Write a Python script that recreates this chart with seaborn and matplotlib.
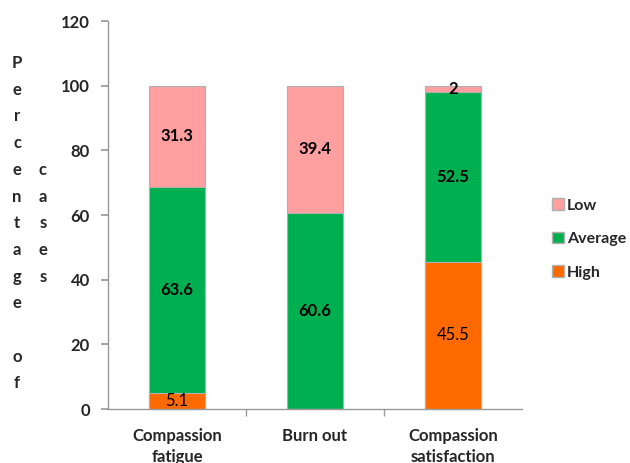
import matplotlib
matplotlib.use("Agg")
import matplotlib.pyplot as plt
import seaborn as sns
import pandas as pd
import numpy as np
from matplotlib.patches import Patch

# Scale scores by level (percentage of cases)
categories = ["Compassion\nfatigue", "Burn out", "Compassion\nsatisfaction"]
high = [5.1, 0.0, 45.5]
average = [63.6, 60.6, 52.5]
low = [31.3, 39.4, 2.0]

colors = {"Low": "#FF9F9F", "Average": "#00B050", "High": "#FF6A00"}
FS = 12

sns.set_theme(style="white")
plt.rcParams["font.family"] = ["Lato", "DejaVu Sans"]

df = pd.DataFrame({"category": categories, "High": high, "Average": average, "Low": low})
df["cum_high"] = df["High"]
df["cum_avg"] = df["High"] + df["Average"]
df["cum_low"] = df["cum_avg"] + df["Low"]

fig = plt.figure(figsize=(6.3, 4.63), dpi=100)
ax = fig.add_axes([0.1714, 0.1166, 0.6572, 0.838])

edge = dict(edgecolor="#B0B0B0", linewidth=0.8, width=0.4)
# stack by overdrawing cumulative totals, tallest first
sns.barplot(data=df, x="category", y="cum_low", color=colors["Low"], ax=ax, saturation=1, **edge)
sns.barplot(data=df, x="category", y="cum_avg", color=colors["Average"], ax=ax, saturation=1, **edge)
sns.barplot(data=df, x="category", y="cum_high", color=colors["High"], ax=ax, saturation=1, **edge)

# value labels centred in each segment
for i in range(len(categories)):
    segs = [("High", high[i], 0.0, "normal"),
            ("Average", average[i], high[i], "bold"),
            ("Low", low[i], high[i] + average[i], "bold")]
    for name, val, base, weight in segs:
        if val <= 0:
            continue
        txt = f"{val:g}"
        ax.text(i, base + val / 2, txt, ha="center", va="center",
                fontsize=FS, fontweight=weight, color="black")

ax.set_ylim(0, 120)
ax.set_xlim(-0.5, 2.5)
ax.set_yticks(np.arange(0, 121, 20))
ax.set_xlabel("")
ax.set_ylabel("")
for s in ["top", "right"]:
    ax.spines[s].set_visible(False)
for s in ["left", "bottom"]:
    ax.spines[s].set_color("#999999")
    ax.spines[s].set_linewidth(1.0)

ax.tick_params(axis="y", which="major", length=5, color="#999999", direction="out",
               left=True, labelsize=FS, pad=8)
ax.tick_params(axis="x", which="major", length=0, labelsize=FS, pad=14)
ax.set_xticks([0.5, 1.5], minor=True)
ax.tick_params(axis="x", which="minor", length=5, color="#999999", direction="out", bottom=True)
for lbl in ax.get_yticklabels() + ax.get_xticklabels():
    lbl.set_fontweight("bold")
for lbl in ax.get_xticklabels():
    lbl.set_linespacing(1.35)

# vertical letter-stacked axis title
step = 26.7 / 463
y0 = 1 - 63 / 463
for k, ch in enumerate("Percentage of"):
    fig.text(17 / 630, y0 - k * step, ch, ha="center", va="center",
             fontsize=FS, fontweight="bold")
for k, ch in enumerate("cases"):
    fig.text(43 / 630, y0 - (k + 4) * step, ch, ha="center", va="center",
             fontsize=FS, fontweight="bold")

handles = [Patch(facecolor=colors[n], edgecolor="#B0B0B0", label=n) for n in ["Low", "Average", "High"]]
fig.legend(handles=handles, loc="center left", bbox_to_anchor=(552 / 630, 1 - 239 / 463),
           frameon=False, borderpad=0, borderaxespad=0,
           handlelength=0.75, handleheight=0.75, handletextpad=0.2,
           labelspacing=1.2, prop={"weight": "bold", "size": 11.5})

fig.savefig("out.png", dpi=100)
